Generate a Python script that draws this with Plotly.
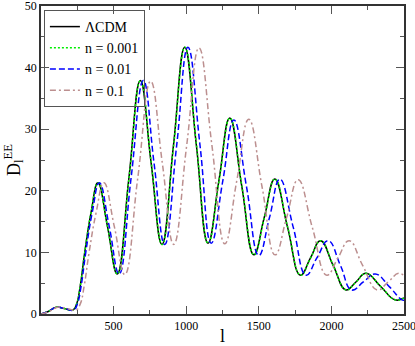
import plotly.graph_objects as go

# values (multipole l, D_l^EE)
l_lcdm = [2, 50, 105, 160, 220, 245, 270, 300, 345, 392, 458, 525, 605, 684, 758, 833,
          912, 990, 1070, 1150, 1225, 1300, 1383, 1466, 1538, 1610, 1698, 1787, 1856,
          1925, 2012, 2100, 2169, 2238, 2338, 2438, 2500]
d_lcdm = [0.0, 0.4, 1.1, 0.9, 0.65, 1.6, 4.5, 9.8, 16.5, 21.3, 14.2, 6.5, 22.0, 37.9, 24.6, 11.3,
          27.3, 43.3, 27.4, 11.5, 21.6, 31.8, 20.7, 9.6, 15.7, 21.9, 14.1, 6.3, 9.1,
          11.9, 7.9, 3.9, 5.2, 6.6, 4.5, 2.3, 2.6]

l_n0001 = [2, 50, 105, 160, 220, 245, 270, 300, 345, 392, 458, 526, 606, 685, 759, 834,
           913, 991, 1071, 1151, 1226, 1301, 1384, 1467, 1539, 1611, 1699, 1788, 1857,
           1926, 2013, 2101, 2170, 2239, 2339, 2439, 2500]
d_n0001 = [0.0, 0.4, 1.1, 0.9, 0.65, 1.6, 4.5, 9.8, 16.5, 21.3, 14.2, 6.5, 22.0, 37.9, 24.6, 11.3,
           27.3, 43.3, 27.4, 11.5, 21.6, 31.8, 20.7, 9.6, 15.7, 21.9, 14.1, 6.3, 9.1,
           11.9, 7.9, 3.9, 5.2, 6.6, 4.5, 2.3, 2.6]

l_n001 = [2, 50, 105, 162, 225, 250, 276, 307, 353, 402, 470, 538, 620, 705, 778, 852,
          934, 1012, 1095, 1172, 1252, 1328, 1415, 1500, 1574, 1645, 1737, 1826, 1900,
          1978, 2062, 2140, 2220, 2302, 2400, 2485, 2500]
d_n001 = [0.0, 0.4, 1.1, 0.9, 0.65, 1.6, 4.5, 9.8, 16.5, 21.3, 14.2, 6.5, 22.0, 37.9, 24.6, 11.3,
          27.3, 43.3, 27.4, 11.5, 21.6, 31.5, 20.7, 9.5, 15.7, 21.9, 14.1, 6.3, 9.1,
          11.9, 7.9, 3.9, 5.2, 6.5, 4.4, 2.3, 2.25]

l_n01 = [2, 55, 115, 176, 242, 270, 297, 330, 380, 433, 505, 577, 666, 755, 835, 914,
         1003, 1088, 1177, 1266, 1348, 1431, 1522, 1612, 1692, 1771, 1868, 1968, 2045,
         2122, 2215, 2315, 2390, 2462, 2500]
d_n01 = [0.0, 0.4, 1.1, 0.9, 0.65, 1.6, 4.5, 9.8, 16.5, 21.3, 14.2, 6.4, 22.0, 37.8, 24.6, 11.3,
         27.3, 43.2, 27.4, 11.4, 21.6, 31.6, 20.7, 9.6, 15.7, 21.8, 14.1, 6.3, 9.1,
         11.9, 7.9, 3.9, 5.2, 6.6, 6.2]

serif = "Liberation Serif, Times New Roman, Times, serif"

fig = go.Figure()
fig.add_trace(go.Scatter(x=l_lcdm, y=d_lcdm, mode="lines", name="ΛCDM",
                         line=dict(color="black", width=1.5, shape="spline", smoothing=1.3)))
fig.add_trace(go.Scatter(x=l_n0001, y=d_n0001, mode="lines", name="n = 0.001",
                         line=dict(color="#00ee00", width=1.5, dash="2px,2px", shape="spline", smoothing=1.3)))
fig.add_trace(go.Scatter(x=l_n001, y=d_n001, mode="lines", name="n = 0.01",
                         line=dict(color="#0000ff", width=1.5, dash="6px,3px", shape="spline", smoothing=1.3)))
fig.add_trace(go.Scatter(x=l_n01, y=d_n01, mode="lines", name="n = 0.1",
                         line=dict(color="#bc8f8f", width=1.5, dash="6px,3px,2px,3px", shape="spline", smoothing=1.3)))

axis_common = dict(showline=True, linecolor="#333333", linewidth=1.5, mirror="allticks",
                   ticks="inside", ticklen=8, tickwidth=1, tickcolor="#555555",
                   showgrid=False, zeroline=False, automargin=False, ticklabeloverflow="allow",
                   tickfont=dict(family=serif, size=12, color="black"))

fig.update_xaxes(range=[0, 2500], tickvals=[500, 1000, 1500, 2000, 2500],
                 minor=dict(tickvals=[250, 750, 1250, 1750, 2250], ticks="inside", ticklen=4,
                            tickcolor="#555555"),
                 title=dict(text="l", font=dict(family=serif, size=18, color="black"), standoff=0),
                 **axis_common)
fig.update_yaxes(range=[0, 50], tickvals=[0, 10, 20, 30, 40, 50],
                 minor=dict(tickvals=[5, 15, 25, 35, 45], ticks="inside", ticklen=4,
                            tickcolor="#555555"),
                 title=dict(text="D<sub>l</sub><sup>EE</sup>", font=dict(family=serif, size=18, color="black"),
                            standoff=0),
                 **axis_common)

fig.update_layout(
    width=415, height=346,
    margin=dict(l=41, r=11, t=6, b=32),
    plot_bgcolor="white", paper_bgcolor="white",
    legend=dict(x=0.008, y=0.987, xanchor="left", yanchor="top",
                bordercolor="#555555", borderwidth=1, bgcolor="rgba(255,255,255,0)",
                font=dict(family=serif, size=14, color="black"),
                itemwidth=30, tracegroupgap=0),
)

# page body has a default 8px margin; drop it so the figure sits at the window corner
fig.write_html("out.html", config={"displayModeBar": False},
               post_script="document.body.style.margin='0';")
